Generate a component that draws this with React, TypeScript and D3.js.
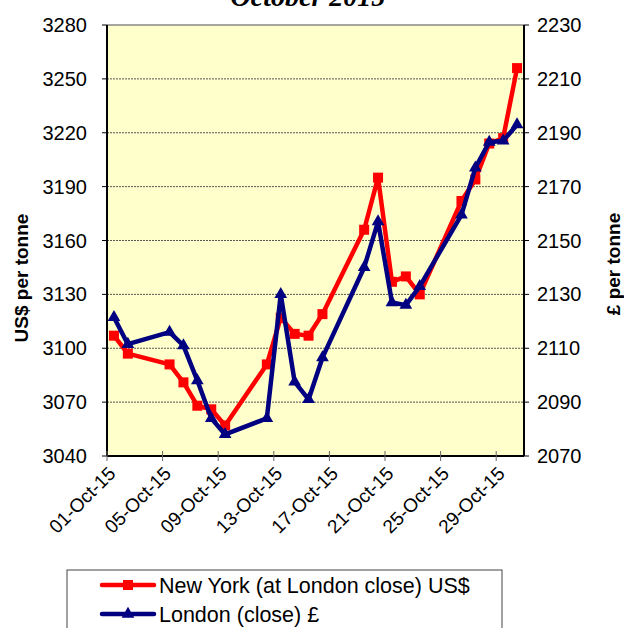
import * as d3 from 'd3'

const dates = [
  '2015-10-01', '2015-10-02', '2015-10-05', '2015-10-06', '2015-10-07', '2015-10-08', '2015-10-09',
  '2015-10-12', '2015-10-13', '2015-10-14', '2015-10-15', '2015-10-16',
  '2015-10-19', '2015-10-20', '2015-10-21', '2015-10-22', '2015-10-23',
  '2015-10-26', '2015-10-27', '2015-10-28', '2015-10-29', '2015-10-30',
]
const newYorkUsd = [
  3107, 3097, 3091, 3081, 3068, 3066, 3057,
  3091, 3117, 3108, 3107, 3119,
  3166, 3195, 3137, 3140, 3130,
  3182, 3194, 3214, 3217, 3256,
]
const londonGbp = [
  2121.5, 2111.5, 2116, 2111, 2098, 2084, 2078,
  2084, 2130, 2097.5, 2091, 2106.5,
  2140, 2157, 2127, 2126, 2133,
  2159.5, 2177, 2186.5, 2187, 2193,
]
const xTickDates = ['2015-10-01', '2015-10-05', '2015-10-09', '2015-10-13', '2015-10-17', '2015-10-21', '2015-10-25', '2015-10-29']
const leftTicks = [3040, 3070, 3100, 3130, 3160, 3190, 3220, 3250, 3280]
const rightTicks = [2070, 2090, 2110, 2130, 2150, 2170, 2190, 2210, 2230]

const parse = d3.utcParse('%Y-%m-%d')
const fmt = d3.utcFormat('%d-%b-%y')

const FONT = '"Liberation Sans", Arial, sans-serif'

export default function App() {
  const margin = { top: 25, left: 107, right: 524, bottom: 456 }

  const x = d3
    .scaleUtc()
    .domain([parse('2015-10-01')!, parse('2015-10-31')!])
    .range([margin.left, margin.right])
  const yL = d3.scaleLinear().domain([3040, 3280]).range([margin.bottom, margin.top])
  const yR = d3.scaleLinear().domain([2070, 2230]).range([margin.bottom, margin.top])

  // points sit in the middle of each day slot
  const xd = (s: string) => x(d3.utcHour.offset(parse(s)!, 12))

  const redLine = d3
    .line<number>()
    .x((_, i) => xd(dates[i]))
    .y((d) => yL(d))
  const blueLine = d3
    .line<number>()
    .x((_, i) => xd(dates[i]))
    .y((d) => yR(d))

  const tri = d3.symbol(d3.symbolTriangle, 70)()

  return (
    <svg width={624} height={628} style={{ display: 'block', position: 'absolute', left: 0, top: 0 }}>
      {/* title is cropped at the top edge, as in the original */}
      <text x={308} y={6} textAnchor="middle" fontFamily='"Liberation Serif", "Times New Roman", serif' fontStyle="italic" fontWeight="bold" fontSize={28}>
        October 2015
      </text>

      {/* plot background */}
      <rect x={margin.left} y={margin.top} width={margin.right - margin.left} height={margin.bottom - margin.top} fill="#FFFFCC" />

      {/* gridlines */}
      {leftTicks.slice(1, -1).map((t) => (
        <line key={t} x1={margin.left} x2={margin.right} y1={yL(t)} y2={yL(t)} stroke="#555" strokeWidth={1} strokeDasharray="2,1" />
      ))}

      {/* borders */}
      <line x1={margin.left} x2={margin.right} y1={margin.top} y2={margin.top} stroke="#888" strokeWidth={1.5} />
      <line x1={margin.left} x2={margin.left} y1={margin.top} y2={margin.bottom} stroke="#000" strokeWidth={2} />
      <line x1={margin.right} x2={margin.right} y1={margin.top} y2={margin.bottom} stroke="#000" strokeWidth={2} />
      <line x1={margin.left} x2={margin.right} y1={margin.bottom} y2={margin.bottom} stroke="#000" strokeWidth={2} />

      {/* left axis */}
      {leftTicks.map((t) => (
        <g key={t}>
          <line x1={margin.left - 5} x2={margin.left} y1={yL(t)} y2={yL(t)} stroke="#000" />
          <text x={margin.left - 20} y={yL(t)} dy="0.35em" textAnchor="end" fontFamily={FONT} fontSize={20}>
            {t}
          </text>
        </g>
      ))}

      {/* right axis */}
      {rightTicks.map((t) => (
        <g key={t}>
          <line x1={margin.right} x2={margin.right + 5} y1={yR(t)} y2={yR(t)} stroke="#000" />
          <text x={margin.right + 13} y={yR(t)} dy="0.35em" textAnchor="start" fontFamily={FONT} fontSize={20}>
            {t}
          </text>
        </g>
      ))}

      {/* x axis */}
      {xTickDates.map((s) => {
        const tx = x(parse(s)!)
        return (
          <g key={s}>
            <line x1={tx} x2={tx} y1={margin.bottom - 5} y2={margin.bottom + 5} stroke="#666" />
            <text
              transform={`translate(${tx + 5},${margin.bottom + 14}) rotate(-45)`}
              textAnchor="end"
              dy="0.35em"
              fontFamily={FONT}
              fontSize={19}
            >
              {fmt(parse(s)!)}
            </text>
          </g>
        )
      })}

      {/* axis titles */}
      <text transform="translate(28,278) rotate(-90)" textAnchor="middle" fontFamily={FONT} fontWeight="bold" fontSize={19}>
        US$ per tonne
      </text>
      <text transform="translate(620,264) rotate(-90)" textAnchor="middle" fontFamily={FONT} fontWeight="bold" fontSize={19}>
        £ per tonne
      </text>

      {/* series */}
      <path d={redLine(newYorkUsd) ?? ''} fill="none" stroke="#FF0000" strokeWidth={4.5} strokeLinejoin="round" />
      {newYorkUsd.map((v, i) => (
        <rect key={i} x={xd(dates[i]) - 5} y={yL(v) - 5} width={10} height={10} fill="#FF0000" />
      ))}
      <path d={blueLine(londonGbp) ?? ''} fill="none" stroke="#000080" strokeWidth={4.5} strokeLinejoin="round" />
      {londonGbp.map((v, i) => (
        <path key={i} d={tri ?? ''} transform={`translate(${xd(dates[i])},${yR(v)})`} fill="#000080" />
      ))}

      {/* legend */}
      <rect x={67} y={570} width={435} height={70} fill="#fff" stroke="#444" strokeWidth={1} />
      <line x1={102} x2={154} y1={585} y2={585} stroke="#FF0000" strokeWidth={4.5} strokeLinecap="round" />
      <rect x={123} y={580} width={10} height={10} fill="#FF0000" />
      <text x={159} y={585} dy="0.35em" fontFamily={FONT} fontSize={21.5}>
        New York (at London close) US$
      </text>
      <line x1={102} x2={154} y1={614} y2={614} stroke="#000080" strokeWidth={4.5} strokeLinecap="round" />
      <path d={tri ?? ''} transform="translate(128,614)" fill="#000080" />
      <text x={159} y={614} dy="0.35em" fontFamily={FONT} fontSize={21.5}>
        London (close) £
      </text>
    </svg>
  )
}
